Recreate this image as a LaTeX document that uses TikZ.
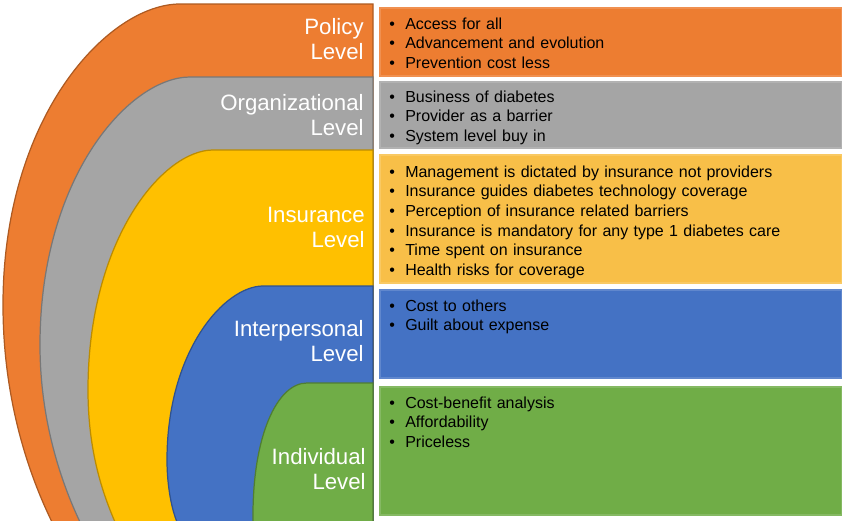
\documentclass[tikz,border=0pt]{standalone}
\usepackage{fontspec}
\setmainfont{Liberation Sans}
\usepackage{tikz}

\definecolor{policyFill}{HTML}{ED7D31}
\definecolor{policyLine}{HTML}{AE5A21}
\definecolor{orgFill}{HTML}{A5A5A5}
\definecolor{orgLine}{HTML}{787878}
\definecolor{insFill}{HTML}{FFC000}
\definecolor{insLine}{HTML}{BC8C00}
\definecolor{insBox}{HTML}{F8BF48}
\definecolor{interFill}{HTML}{4472C4}
\definecolor{interLine}{HTML}{2F528F}
\definecolor{indivFill}{HTML}{70AD47}
\definecolor{indivLine}{HTML}{507E32}

\newcommand{\litem}{\makebox[9.07pt][l]{•}}

\begin{document}
\begin{tikzpicture}[x=0.02cm,y=0.02cm,
	level/.style={line width=0.7pt},
	lvlname/.style={text=white,font=\fontsize{12.65}{14.7}\selectfont,text width=4cm,align=right,inner sep=0pt,anchor=base east},
	listbox/.style={minimum width=9.24cm,inner sep=0pt,outer sep=0pt,line width=0.6pt,anchor=north west},
	items/.style={font=\fontsize{9.1}{11.2}\selectfont,text width=8.5cm,align=left,inner sep=0pt,anchor=base west}]
\useasboundingbox (0,0) rectangle (844,522);

\begin{scope}
	\clip (0,1.5) rectangle (380,522);
	\filldraw[level,fill=policyFill,draw=policyLine] (180,518) .. controls (109,518) and (3,407) .. (3,217)
		.. controls (3,120) and (30,45) .. (52,0) -- (52,-10) -- (373,-10) -- (373,518) -- cycle;
	\filldraw[level,fill=orgFill,draw=orgLine] (190,445) .. controls (130,445) and (40,346) .. (40,177)
		.. controls (40,100) and (62,38) .. (80,0) -- (80,-10) -- (373,-10) -- (373,445) -- cycle;
	\filldraw[level,fill=insFill,draw=insLine] (213,372) .. controls (163,372) and (88,283) .. (88,132)
		.. controls (88,70) and (103,28) .. (115,0) -- (115,-10) -- (373,-10) -- (373,372) -- cycle;
	\filldraw[level,fill=interFill,draw=interLine] (263,236) .. controls (225,236) and (167,172) .. (167,62)
		.. controls (167,35) and (172,12) .. (177,0) -- (177,-10) -- (373,-10) -- (373,236) -- cycle;
	\filldraw[level,fill=indivFill,draw=indivLine] (307,139) .. controls (277,139) and (253,86) .. (253,7)
		-- (253,-10) -- (373,-10) -- (373,139) -- cycle;
\end{scope}

\node[lvlname] (policyName) at (364,488) {Policy\\Level};
\node[lvlname] (orgName) at (364,412) {Organizational\\Level};
\node[lvlname] (insName) at (365,300) {Insurance\\Level};
\node[lvlname] (interName) at (364,186) {Interpersonal\\Level};
\node[lvlname] (indivName) at (366,58) {Individual\\Level};

\node[listbox,fill=policyFill,draw=policyFill!85!white,minimum height=1.36cm] (policyBox) at (380,514) {};
\node[listbox,fill=orgFill,draw=orgFill!85!white,minimum height=1.32cm] (orgBox) at (380,440) {};
\node[listbox,fill=insBox,draw=insBox!85!white,minimum height=2.56cm] (insBox) at (380,367) {};
\node[listbox,fill=interFill,draw=interFill!85!white,minimum height=1.76cm] (interBox) at (380,232) {};
\node[listbox,fill=indivFill,draw=indivFill!85!white,minimum height=2.56cm] (indivBox) at (380,135) {};

\node[items] (policyItems) at (389,493) {\litem Access for all\\\litem Advancement and evolution\\\litem Prevention cost less};
\node[items] (orgItems) at (389,420) {\litem Business of diabetes\\\litem Provider as a barrier\\\litem System level buy in};
\node[items] (insItems) at (389,345) {\litem Management is dictated by insurance not providers\\\litem Insurance guides diabetes technology coverage\\\litem Perception of insurance related barriers\\\litem Insurance is mandatory for any type 1 diabetes care\\\litem Time spent on insurance\\\litem Health risks for coverage};
\node[items] (interItems) at (389,211) {\litem Cost to others\\\litem Guilt about expense};
\node[items] (indivItems) at (389,114) {\litem Cost-benefit analysis\\\litem Affordability\\\litem Priceless};
\end{tikzpicture}
\end{document}
